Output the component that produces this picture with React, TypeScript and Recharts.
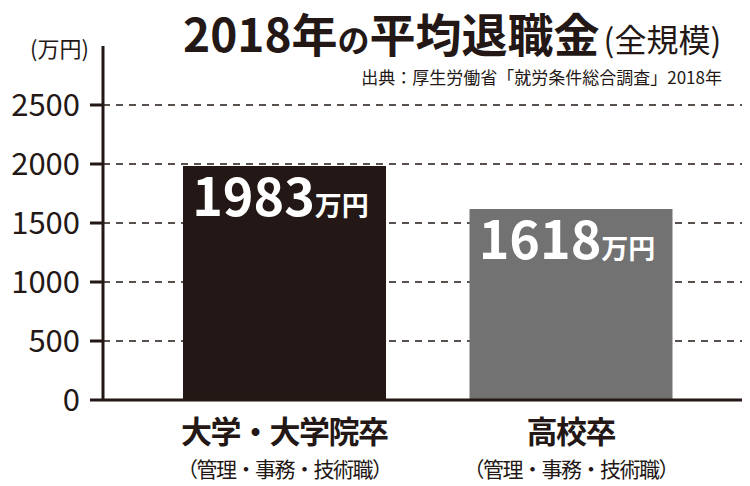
import React from "react";
import { BarChart, Bar, XAxis, YAxis, CartesianGrid, Cell, LabelList } from "recharts";

const categories = ["大学・大学院卒", "高校卒"];
const subLabels = ["（管理・事務・技術職）", "（管理・事務・技術職）"];
const values = [1983, 1618];
const barColors = ["#231815", "#727272"];
const yTicks = [0, 500, 1000, 1500, 2000, 2500];
const gridValues = [500, 1000, 1500, 2000, 2500];

const data = categories.map((name, i) => ({ name, sub: subLabels[i], value: values[i] }));

const INK = "#231815";
const FONT = "'Noto Sans CJK JP', 'Noto Sans', sans-serif";

const CategoryTick = ({ x, y, payload }: any) => {
  const sub = subLabels[payload.index] ?? "";
  return (
    <g>
      <text x={x} y={y + 43} textAnchor="middle" fontSize={31} fontWeight={700} fill={INK} letterSpacing={-1.5} fontFamily={FONT}>
        {payload.value}
      </text>
      <text x={x} y={y + 77} textAnchor="middle" fontSize={21} fill={INK} letterSpacing={-1.5} fontFamily={FONT}>
        {sub}
      </text>
    </g>
  );
};

const ValueLabel = (props: any) => {
  const { x, y, width, value } = props;
  return (
    <text x={x + width / 2 - 4} y={y + 50} textAnchor="middle" fill="#ffffff" fontWeight={700} fontFamily={FONT}>
      <tspan fontSize={52}>{value}</tspan>
      <tspan fontSize={27}>万円</tspan>
    </text>
  );
};

export default function App() {
  return (
    <div style={{ position: "absolute", left: 0, top: 0, width: 750, height: 486, background: "#fff", fontFamily: FONT }}>
      <BarChart width={750} height={486} data={data} margin={{ top: 46, right: 8, left: 0, bottom: 0 }}>
        <CartesianGrid
          vertical={false}
          horizontalValues={gridValues}
          stroke={INK}
          strokeDasharray="7 6"
          strokeWidth={1.5}
        />
        <XAxis
          dataKey="name"
          height={86}
          axisLine={{ stroke: INK, strokeWidth: 3 }}
          tickLine={false}
          tickSize={0}
          tickMargin={0}
          padding={{ left: 38, right: 28 }}
          tick={<CategoryTick />}
          interval={0}
        />
        <YAxis
          width={103}
          domain={[0, 3000]}
          ticks={yTicks}
          axisLine={{ stroke: INK, strokeWidth: 3 }}
          tickLine={{ stroke: INK, strokeWidth: 3 }}
          tickSize={13}
          tickMargin={10}
          tick={{ fontSize: 31, fill: INK, fontFamily: FONT }}
        />
        <Bar dataKey="value" barSize={203} isAnimationActive={false}>
          {data.map((d, i) => (
            <Cell key={d.name} fill={barColors[i]} />
          ))}
          <LabelList dataKey="value" content={<ValueLabel />} />
        </Bar>
      </BarChart>
      <svg width={750} height={486} style={{ position: "absolute", left: 0, top: 0, pointerEvents: "none" }}>
        <text x={183} y={52} fontSize={46} fontWeight={700} fill={INK} fontFamily={FONT}>
          2018年<tspan fontSize={32}>の</tspan>平均退職金
          <tspan fontSize={32} fontWeight={400} dx={4}>(全規模)</tspan>
        </text>
        <text x={722} y={84} textAnchor="end" fontSize={17} fill={INK} fontFamily={FONT}>
          出典：厚生労働省「就労条件総合調査」2018年
        </text>
        <text x={30} y={57} fontSize={22} fill={INK} fontFamily={FONT}>
          (万円)
        </text>
      </svg>
    </div>
  );
}
